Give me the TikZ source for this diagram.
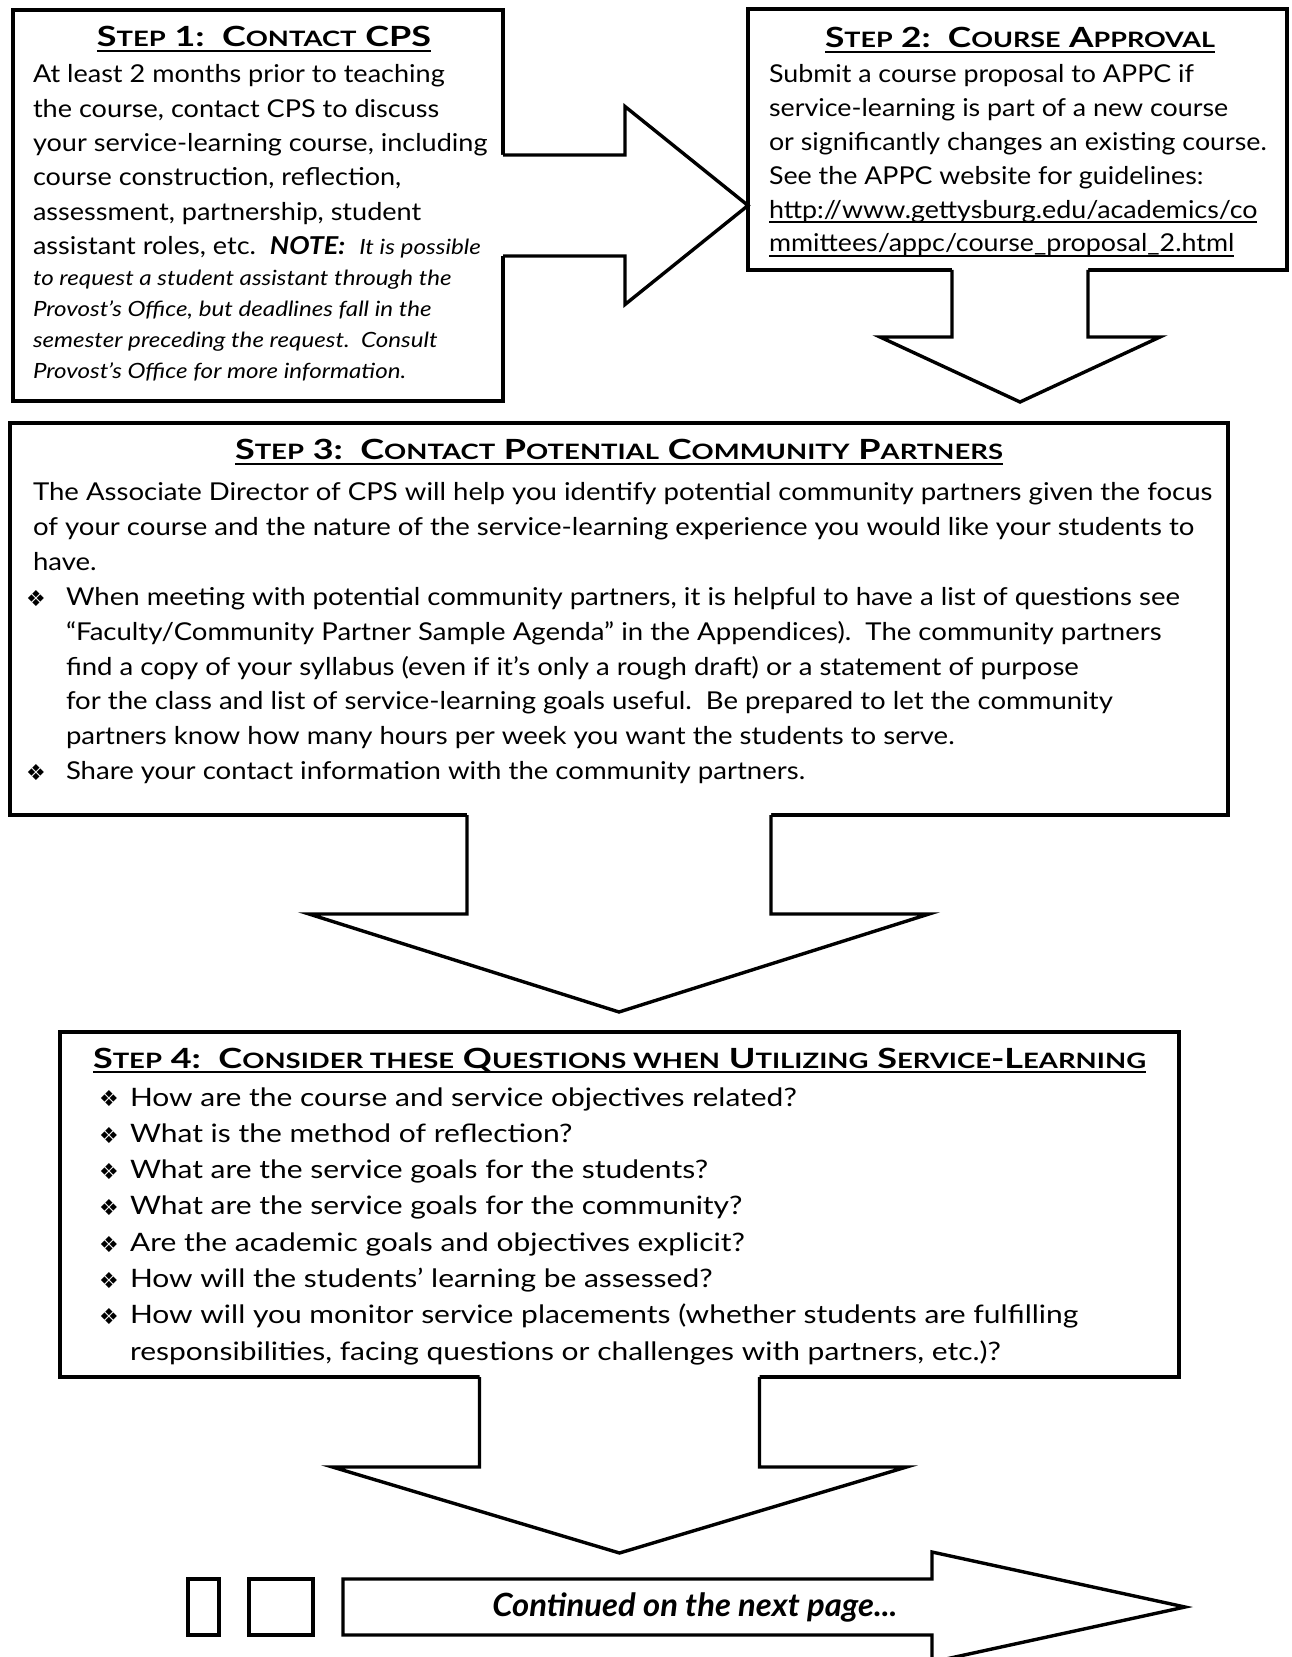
\documentclass[tikz,border=0pt]{standalone}
\usepackage{fontspec}
\usepackage{graphicx}
\setmainfont{Lato}
\newfontfamily\symf{DejaVu Sans}
\usetikzlibrary{calc}
\newcommand\bodyf{\fontsize{12.3}{14}\selectfont}
\newcommand\bodyq{\fontsize{12.7}{14}\selectfont}
\newcommand\itf{\fontsize{10.5}{12}\selectfont\itshape}
\newcommand\ttlf{\fontsize{13.9}{16}\selectfont\bfseries}
\newcommand\smc[1]{{\fontsize{10.6}{12}\selectfont #1}}
\newcommand\hs[2]{\scalebox{#1}[1]{#2}}
\begin{document}
\begin{tikzpicture}[x=0.5pt,y=-0.5pt,
  box/.style={draw, line width=1.7pt, inner sep=0pt, outer sep=0pt, anchor=north west},
  txt/.style={inner sep=0pt, outer sep=0pt, anchor=base west, font=\bodyf},
  itx/.style={txt, font=\itf},
  ttl/.style={inner sep=0pt, outer sep=0pt, anchor=base, font=\ttlf},
  bul/.style={inner sep=0pt, outer sep=0pt, anchor=center, font=\symf\fontsize{11}{11}\selectfont},
  arr/.style={line width=1.7pt, line join=miter},
  afill/.style={fill=white, draw=none},
  uline/.style={line width=1.1pt}]

\clip (0,0) rectangle (1291,1657);
\fill[white] (0,0) rectangle (1291,1657);

% boxes
\node[box, minimum width=245pt, minimum height=195.5pt] (s1) at (13,10) {};
\node[box, minimum width=269.5pt, minimum height=130.5pt] (s2) at (748,9) {};
\node[box, minimum width=609pt, minimum height=196pt] (s3) at (10,423) {};
\node[box, minimum width=559.5pt, minimum height=172.5pt] (s4) at (60,1032) {};

% arrow 1 (right)
\fill[afill] ($(s1.east)+(-4,-50.5)$) -- ++(126,0) -- ++(0,-48.5) -- (s2.west |- s1.east) -- ($(s1.east)+(122,99)$) -- ++(0,-48.5) -- ++(-126,0) -- cycle;
\draw[arr] ($(s1.east)+(0,-50.5)$) -- ++(122,0) -- ++(0,-48.5) -- (s2.west |- s1.east) -- ($(s1.east)+(122,99)$) -- ++(0,-48.5) -- ++(-122,0);

% arrow 2 (down)
\coordinate (a2) at ($(s2.south)+(2.5,0)$);
\fill[afill] ($(a2)+(-68,-4)$) -- ++(0,71) -- ++(-72,0) -- ($(a2)+(0,132)$) -- ($(a2)+(140,67)$) -- ++(-72,0) -- ++(0,-71) -- cycle;
\draw[arr] ($(a2)+(-68,0)$) -- ++(0,67) -- ++(-72,0) -- ($(a2)+(0,132)$) -- ($(a2)+(140,67)$) -- ++(-72,0) -- ++(0,-67);

% arrow 3 (down)
\coordinate (a3) at ($(s3.south)+(0,0)$);
\fill[afill] ($(a3)+(-152,-4)$) -- ++(0,103) -- ++(-158,0) -- ($(a3)+(0,197)$) -- ($(a3)+(310,99)$) -- ++(-158,0) -- ++(0,-103) -- cycle;
\draw[arr] ($(a3)+(-152,0)$) -- ++(0,99) -- ++(-158,0) -- ($(a3)+(0,197)$) -- ($(a3)+(310,99)$) -- ++(-158,0) -- ++(0,-99);

% arrow 4 (down)
\coordinate (a4) at (s4.south);
\fill[afill] ($(a4)+(-140,-4)$) -- ++(0,94) -- ++(-147,0) -- ($(a4)+(0,176)$) -- ($(a4)+(287,90)$) -- ++(-147,0) -- ++(0,-94) -- cycle;
\draw[arr] ($(a4)+(-140,0)$) -- ++(0,90) -- ++(-147,0) -- ($(a4)+(0,176)$) -- ($(a4)+(287,90)$) -- ++(-147,0) -- ++(0,-90);

% bottom
\node[box, minimum width=15.5pt, minimum height=28pt] (r1) at (188,1579) {};
\node[box, minimum width=32pt, minimum height=28pt] (r2) at (249,1579) {};
\coordinate (c0) at (343,1579);
\draw[arr] (c0) -- ++(589,0) -- ++(0,-27) -- ++(253,55) -- ++(-253,55) -- ++(0,-27) -- ++(-589,0) -- cycle;
\node[inner sep=0pt, anchor=base west, font=\fontsize{16}{18}\selectfont\bfseries\itshape] (cont) at (492,1616) {\resizebox{202.5pt}{\height}{Continued on the next page...}};

% titles
\node[ttl] (t1) at (264,47) {\resizebox{167pt}{\height}{S\smc{TEP} 1:\ \ C\smc{ONTACT} CPS}};
\node[ttl] (t2) at (1020,48) {\resizebox{195pt}{\height}{S\smc{TEP} 2:\ \ C\smc{OURSE} A\smc{PPROVAL}}};
\node[ttl] (t3) at (619,460) {\resizebox{384pt}{\height}{S\smc{TEP} 3:\ \ C\smc{ONTACT} P\smc{OTENTIAL} C\smc{OMMUNITY} P\smc{ARTNERS}}};
\node[ttl, anchor=base west] (t4) at (93,1068) {\resizebox{526.5pt}{\height}{S\smc{TEP} 4:\ \ C\smc{ONSIDER THESE} Q\smc{UESTIONS WHEN} U\smc{TILIZING} S\smc{ERVICE}-L\smc{EARNING}}};
\foreach \n in {t1,t2,t3,t4}
  \draw[uline] ($(\n.base west)+(0,4)$) -- ($(\n.base east)+(0,4)$);

% step 1 text
\foreach \t [count=\i from 0] in {
  {At least 2 months prior to teaching},
  {the course, contact CPS to discuss},
  {your service-learning course, including},
  {course construction, reflection,},
  {assessment, partnership, student},
  {assistant roles, etc.\ \ \textbf{\textit{NOTE:}}\ \ {\itf\hs{1.05}{It is possible}}}}
  { \node[txt] (p\i) at (33,{83+34.3*\i}) {\hs{1.10}{\t}}; }
\foreach \t [count=\i from 0] in {
  {to request a student assistant through the},
  {Provost’s Office, but deadlines fall in the},
  {semester preceding the request.\ \ Consult},
  {Provost’s Office for more information.}}
  { \node[itx] (pi\i) at (33,{286+30.7*\i}) {\hs{1.15}{\t}}; }

% step 2 text
\foreach \t [count=\i from 0] in {
  {Submit a course proposal to APPC if},
  {service-learning is part of a new course},
  {or significantly changes an existing course.},
  {See the APPC website for guidelines:},
  {http://www.gettysburg.edu/academics/co},
  {mmittees/appc/course\_proposal\_2.html}}
  { \node[txt] (m\i) at (769,{83+33.8*\i}) {\hs{1.09}{\t}}; }
\foreach \n in {m4,m5}
  \draw[line width=0.9pt] ($(\n.base west)+(0,4)$) -- ($(\n.base east)+(0,4)$);

% step 3 text
\foreach \t/\x [count=\i from 0] in {
  {The Associate Director of CPS will help you identify potential community partners given the focus}/33,
  {of your course and the nature of the service-learning experience you would like your students to}/33,
  {have.}/33,
  {When meeting with potential community partners, it is helpful to have a list of questions see}/66,
  {“Faculty/Community Partner Sample Agenda” in the Appendices).\ \ The community partners}/66,
  {find a copy of your syllabus (even if it’s only a rough draft) or a statement of purpose}/66,
  {for the class and list of service-learning goals useful.\ \ Be prepared to let the community}/66,
  {partners know how many hours per week you want the students to serve.}/66,
  {Share your contact information with the community partners.}/66}
  { \node[txt] (c\i) at (\x,{501+34.8*\i}) {\hs{1.12}{\t}}; }
\node[bul] (cb1) at (36,{501+34.8*3-7}) {❖};
\node[bul] (cb2) at (36,{501+34.8*8-7}) {❖};

% step 4 text
\foreach \t [count=\i from 0] in {
  {How are the course and service objectives related?},
  {What is the method of reflection?},
  {What are the service goals for the students?},
  {What are the service goals for the community?},
  {Are the academic goals and objectives explicit?},
  {How will the students’ learning be assessed?},
  {How will you monitor service placements (whether students are fulfilling},
  {responsibilities, facing questions or challenges with partners, etc.)?}}
  { \node[txt, font=\bodyq] (q\i) at (130,{1106+36.3*\i}) {\hs{1.18}{\t}}; }
\foreach \i in {0,...,6}
  { \node[bul] (qb\i) at (109,{1099+36.3*\i}) {❖}; }
\end{tikzpicture}
\end{document}
